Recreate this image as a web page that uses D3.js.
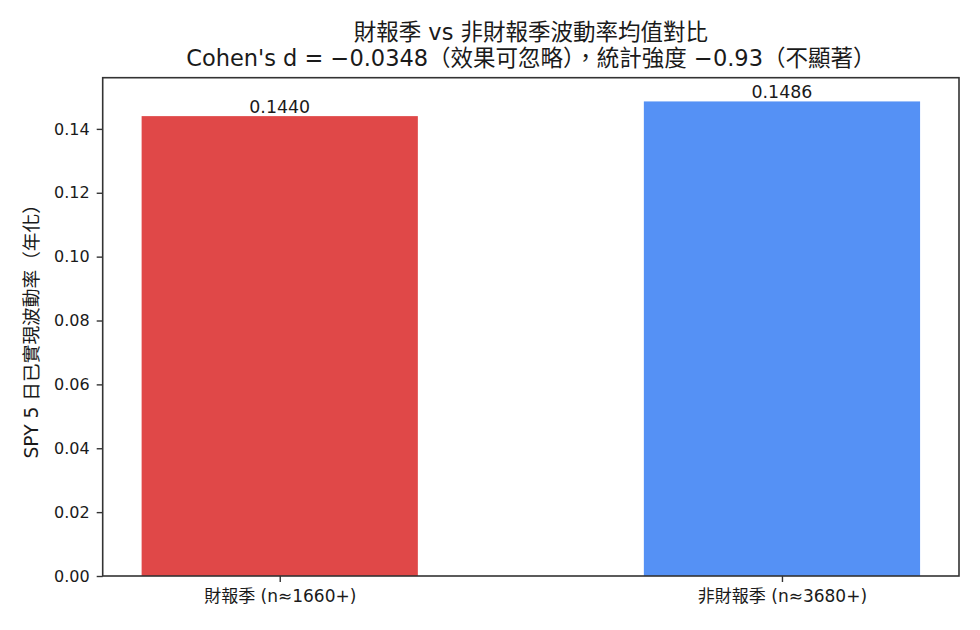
<!DOCTYPE html>
<html><head><meta charset="utf-8">
<script src="https://cdn.jsdelivr.net/npm/d3@7"></script>
<style>
body{margin:0;background:#fff;}
svg text{font-family:"DejaVu Sans","Noto Sans CJK TC",sans-serif;fill:#1a1a1a;}
</style></head>
<body><svg id="c" width="980" height="630"></svg>
<script>
const categories = ["財報季 (n≈1660+)", "非財報季 (n≈3680+)"];
const values = [0.1440, 0.1486];
const valueLabels = ["0.1440", "0.1486"];
const colors = ["#e04848", "#5591f5"];
const yTicks = [0, 0.02, 0.04, 0.06, 0.08, 0.10, 0.12, 0.14];
const titleLines = ["財報季 vs 非財報季波動率均值對比", "Cohen's d = −0.0348（效果可忽略），統計強度 −0.93（不顯著）"];
const yLabel = "SPY 5 日已實現波動率（年化）";

const FF = '"DejaVu Sans","Noto Sans CJK TC",sans-serif';
const svg = d3.select("#c");
const L = 102.7, R = 959, T = 77.7, B = 576;
const barW = 0.55;
const m = 0.05 * (categories.length - 1 + barW);
const x = d3.scaleLinear().domain([-barW/2 - m, categories.length - 1 + barW/2 + m]).range([L, R]);
const y = d3.scaleLinear().domain([0, d3.max(values) * 1.05]).range([B, T]);

svg.selectAll("rect.bar").data(values).enter().append("rect")
  .attr("x", (d,i) => x(i - barW/2))
  .attr("width", (d,i) => x(i + barW/2) - x(i - barW/2))
  .attr("y", d => y(d))
  .attr("height", d => y(0) - y(d))
  .attr("fill", (d,i) => colors[i]);

svg.selectAll("text.vl").data(values).enter().append("text")
  .attr("x", (d,i) => x(i)).attr("y", d => y(d) - 3)
  .attr("text-anchor", "middle").attr("font-size", 17.4).text((d,i) => valueLabels[i]);

const yAxis = svg.append("g").attr("transform", `translate(${L},0)`)
  .call(d3.axisLeft(y).tickValues(yTicks).tickFormat(d3.format(".2f")).tickSize(6).tickPadding(7));
yAxis.selectAll("text").attr("font-size", 16);
const xAxis = svg.append("g").attr("transform", `translate(0,${B})`)
  .call(d3.axisBottom(x).tickValues(d3.range(categories.length)).tickFormat(i => categories[i]).tickSize(6).tickPadding(8));
xAxis.selectAll("text").attr("font-size", 17);
[yAxis, xAxis].forEach(g => {
  g.select(".domain").remove();
  g.selectAll("line").attr("stroke", "#333").attr("stroke-width", 1.4);
  g.selectAll("text").attr("fill", "#1a1a1a").style("font-family", FF);
});

svg.append("rect").attr("x", L).attr("y", T).attr("width", R - L).attr("height", B - T)
  .attr("fill", "none").attr("stroke", "#333").attr("stroke-width", 1.6);

svg.append("text").attr("transform", `translate(38,${(T+B)/2}) rotate(-90)`)
  .attr("text-anchor", "middle").attr("font-size", 18.7).text(yLabel);

titleLines.forEach((t,i) => svg.append("text").attr("x", (L+R)/2).attr("y", 40 + i*26)
  .attr("text-anchor", "middle").attr("font-size", 22.5).text(t));
</script></body></html>
